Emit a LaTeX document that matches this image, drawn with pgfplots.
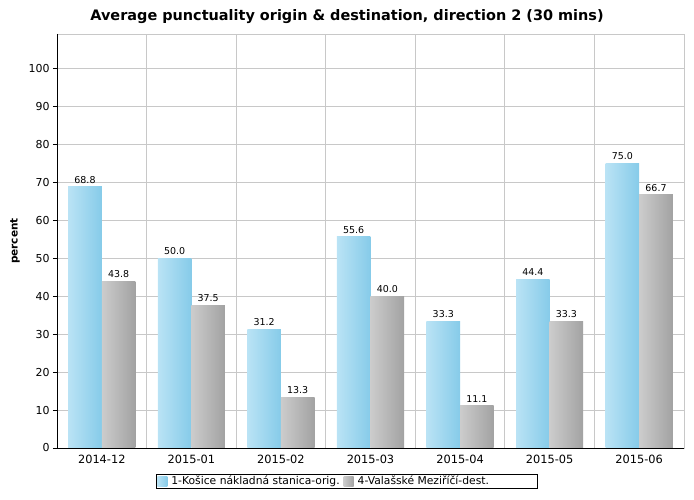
\documentclass[border=0pt]{standalone}
\usepackage{fontspec}
\setmainfont{DejaVu Sans}
\usepackage{pgfplots}
\pgfplotsset{compat=1.18}
\definecolor{bluel}{HTML}{BAE3F5}
\definecolor{bluer}{HTML}{86CBE9}
\definecolor{grayl}{HTML}{CCCCCC}
\definecolor{grayr}{HTML}{A2A2A2}
\definecolor{gridc}{HTML}{C8C8C8}
\pgfplotsset{
  bluebar/.style={draw=none, left color=bluel, right color=bluer, bar shift=-0.1875},
  graybar/.style={draw=none, left color=grayl, right color=grayr, bar shift=0.1875},
}
\begin{document}
\begin{tikzpicture}
\begin{axis}[
  name=ax,
  scale only axis, width=627bp, height=414bp,
  ybar=0pt, bar width=0.375,
  xmin=-0.5, xmax=6.5, ymin=0, ymax=109,
  xtick={0,...,6},
  xticklabels={2014-12,2015-01,2015-02,2015-03,2015-04,2015-05,2015-06},
  minor xtick={0.5,1.5,...,5.5},
  xminorgrids, ymajorgrids,
  ytick={0,10,...,100},
  ytick pos=left,
  grid style={gridc, line width=0.8pt},
  minor grid style={gridc, line width=0.8pt},
  axis line style={gridc, line width=0.8pt},
  tick align=outside, major tick length=4bp, minor tick length=0pt,
  ytick style={black, line width=0.6pt}, xtick style={draw=none},
  /pgf/number format/assume math mode=true,
  ticklabel style={font=\fontsize{11}{13}\selectfont},
  xticklabel style={font=\fontsize{11.4}{13}\selectfont},
  ylabel={percent},
  ylabel style={font=\bfseries\fontsize{10.5}{12}\selectfont, at={(axis description cs:-0.067,0.5)}, anchor=center},
  nodes near coords,
  nodes near coords style={font=\fontsize{9.5}{11}\selectfont, black, /pgf/number format/.cd, fixed, fixed zerofill, precision=1, assume math mode=true},
  legend columns=2,
  legend style={at={(0.1574,-0.0628)}, anchor=north west, draw=black, fill=white, font=\fontsize{10.8}{12}\selectfont, inner xsep=1.5bp, inner ysep=0bp,
    /tikz/every odd column/.append style={column sep=2bp},
    /tikz/every even column/.append style={column sep=2bp}},
  legend image code/.code={\path[#1, draw=none] (0bp,-5bp) rectangle (10bp,5bp);},
]
\addplot[bluebar] coordinates {(0,68.8)};
\addlegendentry{1-Košice nákladná stanica-orig.}
\addplot[graybar] coordinates {(0,43.8)};
\addlegendentry{4-Valašské Meziříčí-dest.\hspace*{45bp}}
\addplot[bluebar, forget plot] coordinates {(1,50.0)};
\addplot[bluebar, forget plot] coordinates {(2,31.2)};
\addplot[bluebar, forget plot] coordinates {(3,55.6)};
\addplot[bluebar, forget plot] coordinates {(4,33.3)};
\addplot[bluebar, forget plot] coordinates {(5,44.4)};
\addplot[bluebar, forget plot] coordinates {(6,75.0)};
\addplot[graybar, forget plot] coordinates {(1,37.5)};
\addplot[graybar, forget plot] coordinates {(2,13.3)};
\addplot[graybar, forget plot] coordinates {(3,40.0)};
\addplot[graybar, forget plot] coordinates {(4,11.1)};
\addplot[graybar, forget plot] coordinates {(5,33.3)};
\addplot[graybar, forget plot] coordinates {(6,66.7)};
\end{axis}
\draw[black, line width=0.8pt] (ax.north west) -- (ax.south west) -- (ax.south east);
\path (ax.south west) ++(-57bp,-52bp) coordinate (F0);
\path (F0) ++(694bp,500bp) coordinate (F1);
\path (F0) rectangle (F1);
\path (F0) ++(347bp,483bp) node[font=\bfseries\fontsize{14.5}{17}\selectfont, anchor=center] {Average punctuality origin \& destination, direction 2 (30 mins)};
\end{tikzpicture}
\end{document}
